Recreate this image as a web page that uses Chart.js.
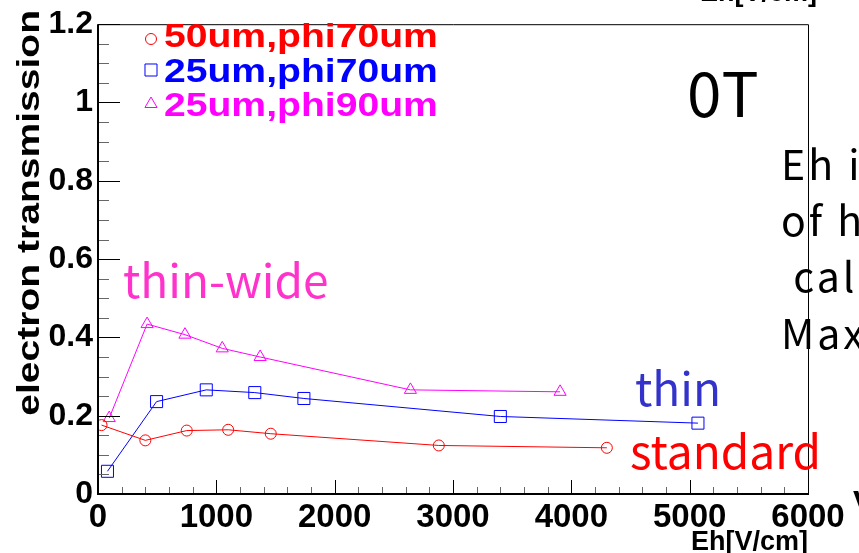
<!DOCTYPE html>
<html>
<head>
<meta charset="utf-8">
<script src="https://cdn.jsdelivr.net/npm/chart.js@4.4.1/dist/chart.umd.min.js"></script>
<style>
html, body { margin: 0; padding: 0; background: #fff; overflow: hidden; }
</style>
</head>
<body>
<canvas id="trans" width="859" height="553"></canvas>
<script>
// data
const series_names = ["50um,phi70um", "25um,phi70um", "25um,phi90um"];
const eh_standard = [30, 400, 750, 1100, 1460, 2880, 4300];
const tr_standard = [0.176, 0.137, 0.162, 0.164, 0.154, 0.124, 0.118];
const eh_thin = [80, 495, 915, 1325, 1740, 3400, 5070];
const tr_thin = [0.058, 0.236, 0.266, 0.259, 0.244, 0.198, 0.181];
const eh_wide = [95, 415, 735, 1050, 1370, 2640, 3905];
const tr_wide = [0.194, 0.434, 0.407, 0.372, 0.350, 0.266, 0.261];
const x_ticks = [0, 1000, 2000, 3000, 4000, 5000, 6000];
const y_ticks = [0, 0.2, 0.4, 0.6, 0.8, 1, 1.2];

const ARIAL = "'Liberation Sans', Arial, sans-serif";
const JP = "'Noto Sans CJK JP', sans-serif";

function pts(xs, ys){
    let out = [];
    for (i in xs){
        out.push({x: xs[i], y: ys[i]});
    }
    return out;
}

// tick marks inside the frame, plus frame and free text
const decor = {
    id: "decor",
    afterDatasetsDraw(chart){
        const ctx = chart.ctx;
        const a = chart.chartArea;
        const xs = chart.scales.x, ys = chart.scales.y;
        ctx.save();
        // y ticks
        for (let v = 0; v <= 1.2001; v += 0.05){
            const y = Math.round(ys.getPixelForValue(v)) + 0.5;
            const major = Math.abs(v / 0.2 - Math.round(v / 0.2)) < 1e-6;
            ctx.strokeStyle = major ? "#000" : "#666";
            ctx.lineWidth = 1;
            ctx.beginPath();
            ctx.moveTo(a.left, y);
            ctx.lineTo(a.left + (major ? 22 : 11), y);
            ctx.stroke();
        }
        // x ticks
        for (let v = 0; v <= 6000; v += 200){
            const x = Math.round(xs.getPixelForValue(v)) + 0.5;
            const major = v % 1000 === 0;
            ctx.strokeStyle = major ? "#000" : "#666";
            ctx.beginPath();
            ctx.moveTo(x, a.bottom);
            ctx.lineTo(x, a.bottom - (major ? 14 : 7));
            ctx.stroke();
        }
        // frame
        ctx.strokeStyle = "#000";
        ctx.lineWidth = 1;
        ctx.beginPath();
        ctx.moveTo(a.left, a.top + 0.5);
        ctx.lineTo(a.right + 0.5, a.top + 0.5);
        ctx.lineTo(a.right + 0.5, a.bottom);
        ctx.stroke();
        ctx.lineWidth = 2;
        ctx.beginPath();
        ctx.moveTo(a.left, a.top);
        ctx.lineTo(a.left, a.bottom);
        ctx.lineTo(a.right + 1, a.bottom);
        ctx.stroke();

        // y title, squeezed like the original
        ctx.save();
        ctx.fillStyle = "#000";
        ctx.font = "bold 32px " + ARIAL;
        ctx.textAlign = "right";
        ctx.textBaseline = "middle";
        ctx.translate(30, 10);
        ctx.rotate(-Math.PI / 2);
        ctx.scale(1.22, 1);
        ctx.fillText("electron transmission", 0, 0);
        ctx.restore();

        // legend
        const ds = chart.data.datasets;
        const ly = [39, 70, 104];
        const tb = [47, 82, 116];
        for (let k = 0; k < ds.length; k++){
            ctx.save();
            ctx.fillStyle = "rgba(0,0,0,0)";
            ctx.strokeStyle = ds[k].borderColor;
            ctx.lineWidth = 1;
            Chart.helpers.drawPoint(ctx, {
                pointStyle: ds[k].pointStyle, radius: ds[k].pointRadius,
                borderWidth: 1
            }, 151, ly[k]);
            ctx.fillStyle = ds[k].borderColor;
            ctx.font = "bold 34px " + ARIAL;
            ctx.textAlign = "left";
            ctx.textBaseline = "alphabetic";
            ctx.translate(164, tb[k]);
            ctx.scale(1.15, 1);
            ctx.fillText(ds[k].label, 0, 0);
            ctx.restore();
        }

        // annotations
        ctx.textBaseline = "alphabetic";
        ctx.textAlign = "left";
        ctx.font = "46px " + JP;
        ctx.fillStyle = "#ff33cc";
        ctx.fillText("thin-wide", 123, 298);
        ctx.fillStyle = "#3333cc";
        ctx.fillText("thin", 635, 406);
        ctx.fillStyle = "#ff0000";
        ctx.fillText("standard", 630, 469);
        ctx.fillStyle = "#000";
        ctx.font = "62px " + JP;
        ctx.fillText("0T", 687, 117);
        ctx.font = "41px " + JP;
        ctx.letterSpacing = "3px";
        const note = ["Eh is the average", "of hole field", " calculated by", "Maxwell 3D"];
        const nb = [180, 236, 292, 349];
        for (let k = 0; k < note.length; k++){
            ctx.fillText(note[k], 781, nb[k]);
        }
        ctx.letterSpacing = "0px";
        // clipped pieces from the neighbouring pads
        ctx.font = "bold 27px " + ARIAL;
        ctx.textAlign = "right";
        ctx.fillText("Eh[V/cm]", 817, 1);
        ctx.textAlign = "left";
        ctx.font = "bold 33px " + ARIAL;
        ctx.fillText("V", 853, 514);
        ctx.restore();
    }
};

const chart_el = document.getElementById("trans");
new Chart(chart_el, {
    type: "scatter",
    data: {
        datasets: [
            {
                label: series_names[0],
                data: pts(eh_standard, tr_standard),
                borderColor: "#ff0000",
                pointStyle: "circle",
                pointRadius: 5.5
            },
            {
                label: series_names[1],
                data: pts(eh_thin, tr_thin),
                borderColor: "#0000ff",
                pointStyle: "rect",
                pointRadius: 8.5
            },
            {
                label: series_names[2],
                data: pts(eh_wide, tr_wide),
                borderColor: "#ff00ff",
                pointStyle: "triangle",
                pointRadius: 7
            }
        ]
    },
    options: {
        responsive: false,
        animation: false,
        devicePixelRatio: 1,
        showLine: true,
        elements: {
            line: { borderWidth: 1, tension: 0 },
            point: { borderWidth: 1, backgroundColor: "rgba(0,0,0,0)", hoverRadius: 6 }
        },
        layout: { padding: { top: 16, right: 51, left: 0, bottom: 0 } },
        plugins: { legend: { display: false }, tooltip: { enabled: false } },
        scales: {
            x: {
                type: "linear",
                min: 0, max: 6000,
                afterFit(s){ s.height = 59; },
                afterBuildTicks(s){ s.ticks = x_ticks.map(v => ({value: v})); },
                grid: { display: true, drawOnChartArea: false, drawTicks: false, color: "rgba(0,0,0,0)" },
                border: { display: false },
                ticks: {
                    color: "#000",
                    font: { family: ARIAL, size: 33, weight: "bold", lineHeight: 1 },
                    padding: 7,
                    maxRotation: 0,
                    autoSkip: false,
                    callback: v => String(v)
                },
                title: {
                    display: true,
                    text: "Eh[V/cm]",
                    align: "end",
                    color: "#000",
                    font: { family: ARIAL, size: 27, weight: "bold", lineHeight: 0.8 },
                    padding: 0
                }
            },
            y: {
                min: 0, max: 1.2,
                afterFit(s){ s.width = 98; },
                afterBuildTicks(s){ s.ticks = y_ticks.map(v => ({value: v})); },
                grid: { display: true, drawOnChartArea: false, drawTicks: false, color: "rgba(0,0,0,0)" },
                border: { display: false },
                ticks: {
                    color: "#000",
                    font: { family: ARIAL, size: 32, weight: "bold" },
                    padding: 5,
                    autoSkip: false,
                    callback: v => String(Math.round(v * 10) / 10)
                }
            }
        }
    },
    plugins: [decor]
});
</script>
</body>
</html>
